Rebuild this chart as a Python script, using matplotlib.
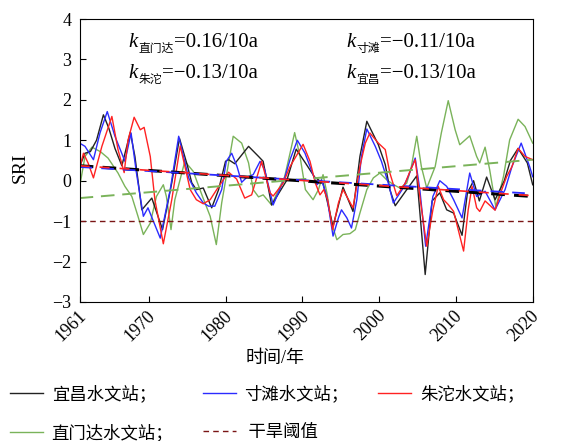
import numpy as np
import matplotlib.pyplot as plt
from matplotlib import transforms

plt.rcParams['font.family'] = ['Liberation Serif', 'Noto Sans CJK SC']
plt.rcParams['axes.unicode_minus'] = True

# 宜昌 (year, SRI)
yc_t = [1961.0, 1961.7, 1962.4, 1963.2, 1964.1, 1964.8, 1965.6, 1966.5, 1967.6, 1968.2,
        1969.1, 1970.4, 1971.8, 1973.0, 1974.0, 1975.0, 1975.6, 1976.2, 1977.1, 1978.2,
        1979.1, 1980.0, 1980.4, 1981.2, 1983.0, 1984.3, 1984.9, 1986.0, 1988.0, 1989.2,
        1990.4, 1991.6, 1992.7, 1994.0, 1995.3, 1996.6, 1997.5, 1998.4, 1999.9, 2000.8,
        2001.4, 2002.1, 2003.6, 2004.9, 2006.0, 2006.9, 2007.9, 2008.8, 2009.7, 2010.8,
        2011.5, 2012.3, 2013.05, 2014.0, 2015.1, 2016.3, 2017.1, 2018.1, 2019.3, 2020.0]
yc_v = [0.35, 0.68, 0.72, 1.0, 1.63, 1.3, 0.8, 0.37, 1.2, 0.6,
        -0.72, -0.43, -1.21, -0.05, 1.05, 0.4, -0.05, -0.22, -0.18, -0.67,
        -0.22, 0.48, 0.52, 0.42, 0.85, 0.6, 0.48, -0.6, 0.02, 0.78,
        0.44, 0.09, -0.06, -1.13, -0.16, -0.76, 0.6, 1.47, 0.89, 0.4,
        -0.22, -0.62, -0.22, 0.12, -2.32, -0.5, -0.3, -0.72, -0.8, -1.35,
        -0.3, 0.0, -0.5, 0.09, -0.47, 0.0, 0.5, 0.8, 0.44, -0.1]

# 寸滩
ct_t = [1961.0, 1961.7, 1962.8, 1963.65, 1964.6, 1965.6, 1966.9, 1967.7, 1968.4, 1969.3,
        1969.9, 1970.6, 1971.5, 1972.8, 1973.9, 1975.2, 1976.2, 1977.1, 1977.8, 1978.6,
        1979.5, 1980.1, 1980.8, 1981.5, 1982.1, 1982.8, 1983.6, 1984.5, 1985.1, 1986.2,
        1987.7, 1988.4, 1989.35, 1990.35, 1991.4, 1991.9, 1992.5, 1993.2, 1994.0, 1994.7,
        1995.1, 1995.8, 1996.4, 1997.1, 1997.7, 1998.4, 1999.5, 2000.3, 2001.2, 2001.85,
        2003.0, 2003.8, 2004.7, 2005.3, 2006.06, 2007.0, 2007.9, 2008.8, 2009.7, 2010.8,
        2011.8, 2012.7, 2013.8, 2015.1, 2016.4, 2017.3, 2018.5, 2019.6, 2020.0]
ct_v = [0.93, 0.85, 0.52, 1.18, 1.71, 1.1, 0.48, 1.18, 0.19, -0.88,
        -0.67, -1.0, -1.42, -0.22, 1.1, 0.07, -0.3, -0.55, -0.63, -0.63,
        -0.22, 0.48, 0.68, 0.35, -0.04, 0.09, 0.15, 0.48, 0.27, -0.6,
        0.07, 0.52, 1.0, 0.68, 0.15, -0.1, 0.02, -0.39, -1.37, -0.92,
        -0.72, -0.92, -1.17, -0.47, 0.6, 1.28, 0.85, 0.48, -0.06, -0.55,
        -0.22, 0.11, 0.56, -0.22, -1.62, -0.39, 0.0, -0.14, -0.47, -0.92,
        0.19, -0.39, -0.26, -0.72, -0.22, 0.35, 0.93, 0.35, 0.1]

# 朱沱
zt_t = [1961.0, 1961.5, 1962.1, 1962.8, 1963.9, 1965.2, 1966.0, 1966.8, 1967.3, 1968.1,
        1968.9, 1969.4, 1970.2, 1970.8, 1971.9, 1973.0, 1974.1, 1975.4, 1976.2, 1977.1,
        1978.0, 1978.85, 1979.7, 1980.4, 1981.45, 1982.5, 1983.4, 1984.7, 1985.8, 1986.2,
        1987.5, 1988.4, 1990.1, 1991.0, 1991.7, 1992.3, 1992.8, 1993.3, 1993.95, 1994.7,
        1995.3, 1996.6, 1997.5, 1998.2, 1998.8, 1999.9, 2000.8, 2001.4, 2002.3, 2003.4,
        2004.1, 2004.7, 2005.3, 2006.2, 2007.0, 2007.7, 2008.4, 2009.0, 2009.7, 2010.3,
        2011.0, 2011.6, 2012.1, 2012.7, 2013.1, 2013.8, 2015.1, 2015.9, 2016.6, 2017.3,
        2018.1, 2019.0, 2020.0]
zt_v = [0.31, 0.68, 0.44, 0.07, 0.85, 1.59, 0.77, 0.2, 1.0, 1.57,
        1.26, 1.32, 0.6, -0.47, -1.56, -0.47, 0.86, -0.22, -0.47, -0.57,
        -0.47, -0.22, 0.02, 0.21, 0.04, -0.43, -0.35, 0.48, -0.3, -0.38,
        -0.06, 0.35, 0.9, 0.48, -0.06, -0.35, -0.22, -0.47, -1.21, -0.55,
        -0.22, -0.67, 0.35, 0.93, 1.18, 0.93, 0.77, 0.19, -0.37, -0.06,
        0.27, 0.52, -0.39, -1.62, -0.72, -0.14, -0.47, -0.59, -0.76, -1.21,
        -1.74, -0.72, -0.14, -0.67, -0.76, -0.5, -0.73, -0.26, 0.1, 0.35,
        0.8, 0.6, 0.52]

# 直门达
zmd_t = [1961.0, 1961.7, 1962.6, 1963.7, 1964.7, 1966.0, 1966.9, 1967.8, 1968.6, 1969.3,
         1970.2, 1971.0, 1971.9, 1972.3, 1972.9, 1973.4, 1974.7, 1975.8, 1977.0, 1978.0,
         1978.8, 1979.5, 1980.4, 1981.0, 1982.1, 1983.0, 1983.6, 1984.3, 1984.9, 1986.0,
         1986.9, 1987.7, 1988.4, 1989.0, 1989.7, 1990.4, 1991.4, 1992.1, 1992.7, 1993.2,
         1993.8, 1994.5, 1995.3, 1996.2, 1996.9, 1997.5, 1998.4, 1999.25, 2000.1, 2001.0,
         2001.9, 2002.7, 2003.6, 2004.2, 2004.9, 2005.5, 2006.2, 2007.3, 2008.1, 2009.0,
         2009.9, 2010.5, 2011.8, 2012.7, 2013.1, 2013.8, 2014.4, 2015.2, 2016.2, 2017.0,
         2018.1, 2019.0, 2020.0]
zmd_v = [-0.15, 0.6, 0.83, 0.72, 0.56, 0.19, -0.14, -0.39, -0.88, -1.33,
         -1.05, -0.39, -0.1, -0.39, -1.21, -0.47, 0.48, 0.23, -0.39, -0.88,
         -1.58, -0.55, 0.44, 1.1, 0.93, 0.44, -0.22, -0.4, -0.35, -0.6,
         -0.22, 0.1, 0.68, 1.19, 0.6, -0.22, -0.47, -0.22, 0.15, -0.3,
         -1.05, -1.46, -1.33, -1.31, -1.21, -0.8, -0.22, 0.07, 0.19, 0.02,
         -0.1, -0.18, -0.06, 0.35, 1.1, 0.35, -0.18, 0.35, 1.18, 1.98,
         1.26, 0.89, 1.11, 0.6, 0.44, 0.83, 0.27, -0.65, 0.11, 1.01,
         1.52, 1.34, 0.93]

# 线性趋势 (1961, 2020 两端)
trend_years = [1961, 2020]
yc_trend = [0.37, -0.39]
ct_trend = [0.34, -0.32]
zt_trend = [0.37, -0.37]
zmd_trend = [-0.43, 0.52]

drought = -1.0
xticks = [1961, 1970, 1980, 1990, 2000, 2010, 2020]

c_yc, c_ct, c_zt, c_zmd, c_dr = '#222222', '#2b2bff', '#ff2222', '#7ab35a', '#7a1515'

fig = plt.figure(figsize=(5.82, 4.41), dpi=100)
ax = fig.add_axes([0.1368, 0.3152, 0.7785, 0.6417])

kw = dict(lw=1.0, solid_joinstyle='round')
l_zmd, = ax.plot(zmd_t, zmd_v, color=c_zmd, **kw)
l_yc, = ax.plot(yc_t, yc_v, color=c_yc, **kw)
l_ct, = ax.plot(ct_t, ct_v, color=c_ct, **kw)
l_zt, = ax.plot(zt_t, zt_v, color=c_zt, **kw)

ax.plot(trend_years, zmd_trend, color=c_zmd, lw=1.4, dashes=(7, 4))
ax.plot(trend_years, yc_trend, color='black', lw=2.2, dashes=(4.5, 3))
ax.plot(trend_years, ct_trend, color=c_ct, lw=1.3, dashes=(7, 5))
ax.plot(trend_years, zt_trend, color=c_zt, lw=1.2, dashes=(6, 6))
l_dr = ax.axhline(drought, color=c_dr, lw=1.0, dashes=(4, 3))

ax.set_xlim(1961, 2020)
ax.set_ylim(-3, 4)
ax.set_xticks(xticks)
ax.set_yticks(range(-3, 5))
ax.tick_params(direction='in', length=4, labelsize=13, pad=6)
ax.tick_params(axis='x', pad=8)
for lab in ax.get_xticklabels():
    lab.set_rotation(45)
    lab.set_ha('right')
    lab.set_va('center')
    lab.set_rotation_mode('anchor')
    lab.set_transform(lab.get_transform() + transforms.ScaledTranslation(4 / 100, 0, fig.dpi_scale_trans))

fig.text(20 / 582, 1 - 168 / 441, 'SRI', rotation=90, fontsize=14, ha='center', va='center')
fig.text(275 / 582, 1 - 358 / 441, '时间/年', fontsize=13, ha='center', va='center')

# 趋势率标注
renderer = fig.canvas.get_renderer()


def k_label(x, y, sub, val):
    t1 = ax.text(x, y, 'k', transform=ax.transAxes, fontsize=15, style='italic', va='baseline')
    w1 = t1.get_window_extent(renderer).width
    t2 = ax.annotate(sub, xy=(x, y), xycoords='axes fraction', xytext=(w1 + 1, -5),
                     textcoords='offset pixels', fontsize=8.5, va='baseline')
    w2 = t2.get_window_extent(renderer).width
    ax.annotate(val, xy=(x, y), xycoords='axes fraction', xytext=(w1 + w2 + 1, 0),
                textcoords='offset pixels', fontsize=15, va='baseline')


k_label(0.107, 0.901, '直门达', '=0.16/10a')
k_label(0.588, 0.901, '寸滩', '=−0.11/10a')
k_label(0.107, 0.792, '朱沱', '=−0.13/10a')
k_label(0.588, 0.792, '宜昌', '=−0.13/10a')

handles = [l_yc, l_zmd, l_ct, l_dr, l_zt]
labels = ['宜昌水文站；', '直门达水文站；', '寸滩水文站；', ' 干旱阈值', '朱沱水文站；']
fig.legend(handles, labels, ncol=3, loc='upper left', bbox_to_anchor=(10 / 582, 1 - 385 / 441),
           frameon=False, fontsize=12.5, handlelength=1.9, handletextpad=0.5,
           columnspacing=1.7, labelspacing=1.25, borderpad=0, borderaxespad=0)

fig.savefig('out.png', dpi=100)
